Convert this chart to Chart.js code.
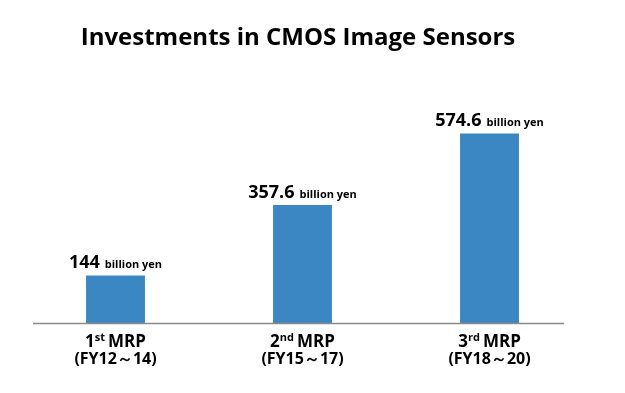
<!DOCTYPE html>
<html>
<head>
  <meta charset="utf-8">
  <title>Investments in CMOS Image Sensors</title>
  <style>
    body {
      margin: 0;
      background: #fff;
    }
    .wrap {
      width: 625px;
      height: 393px;
      position: relative;
    }
  </style>
</head>
<body>
  <div class="wrap">
    <canvas id="chart" width="625" height="393"></canvas>
  </div>

  <script src="https://cdn.jsdelivr.net/npm/chart.js"></script>
  <script>
    const titleText = 'Investments in CMOS Image Sensors';
    const planNumbers = ['1', '2', '3'];
    const planSuffixes = ['st', 'nd', 'rd'];
    const planPeriods = ['(FY12～14)', '(FY15～17)', '(FY18～20)'];
    const investments = [144, 357.6, 574.6];
    const unitText = 'billion yen';

    const FONT = "'Open Sans', 'Noto Sans', sans-serif";

    // title, baseline, value labels and category labels
    const decorations = {
      id: 'decorations',
      afterDatasetsDraw(chart) {
        const { ctx, chartArea } = chart;
        const xs = chart.scales.x;
        const ys = chart.scales.y;
        const meta = chart.getDatasetMeta(0);

        ctx.save();
        ctx.fillStyle = '#000';
        ctx.textBaseline = 'alphabetic';

        // title
        ctx.font = 'bold 24px ' + FONT;
        ctx.textAlign = 'center';
        ctx.fillText(titleText, 298, 45);

        // baseline
        const y0 = Math.round(ys.getPixelForValue(0)) + 0.5;
        ctx.strokeStyle = '#8a8a8a';
        ctx.lineWidth = 1.5;
        ctx.beginPath();
        ctx.moveTo(chartArea.left + 11, y0);
        ctx.lineTo(chartArea.right - 19, y0);
        ctx.stroke();

        ctx.textAlign = 'left';
        meta.data.forEach((bar, i) => {
          const cx = xs.getPixelForValue(i);

          // value label
          const num = String(investments[i]);
          ctx.font = 'bold 18px ' + FONT;
          const wNum = ctx.measureText(num).width;
          ctx.font = 'bold 11px ' + FONT;
          const wUnit = ctx.measureText(unitText).width;
          const gap = 5;
          const lx = cx - (wNum + gap + wUnit) / 2;
          const ly = bar.y - 7;
          ctx.font = 'bold 18px ' + FONT;
          ctx.fillText(num, lx, ly);
          ctx.font = 'bold 11px ' + FONT;
          ctx.fillText(unitText, lx + wNum + gap, ly);

          // category label line 1: "1st MRP"
          ctx.font = 'bold 17px ' + FONT;
          const wN = ctx.measureText(planNumbers[i]).width;
          const wM = ctx.measureText('MRP').width;
          ctx.font = 'bold 11px ' + FONT;
          const wS = ctx.measureText(planSuffixes[i]).width;
          const sp = 3;
          const tx = cx - (wN + wS + sp + wM) / 2;
          const ty = 347;
          ctx.font = 'bold 17px ' + FONT;
          ctx.fillText(planNumbers[i], tx, ty);
          ctx.font = 'bold 11px ' + FONT;
          ctx.fillText(planSuffixes[i], tx + wN, ty - 6);
          ctx.font = 'bold 17px ' + FONT;
          ctx.fillText('MRP', tx + wN + wS + sp, ty);

          // category label line 2: period
          ctx.font = 'bold 16px ' + FONT;
          ctx.textAlign = 'center';
          ctx.fillText(planPeriods[i], cx, 364);
          ctx.textAlign = 'left';
        });

        ctx.restore();
      }
    };

    new Chart(document.getElementById('chart'), {
      type: 'bar',
      data: {
        labels: planNumbers.map((n, i) => n + planSuffixes[i] + ' MRP'),
        datasets: [{
          data: investments,
          backgroundColor: '#3a87c3',
          borderWidth: 0,
          barPercentage: 0.315,
          categoryPercentage: 1
        }]
      },
      options: {
        responsive: false,
        animation: false,
        layout: {
          padding: { top: 125, bottom: 70, left: 22, right: 42 }
        },
        plugins: {
          legend: { display: false },
          tooltip: { enabled: false }
        },
        scales: {
          x: { display: false },
          y: { display: false, min: 0, max: 600 }
        }
      },
      plugins: [decorations]
    });
  </script>
</body>
</html>
